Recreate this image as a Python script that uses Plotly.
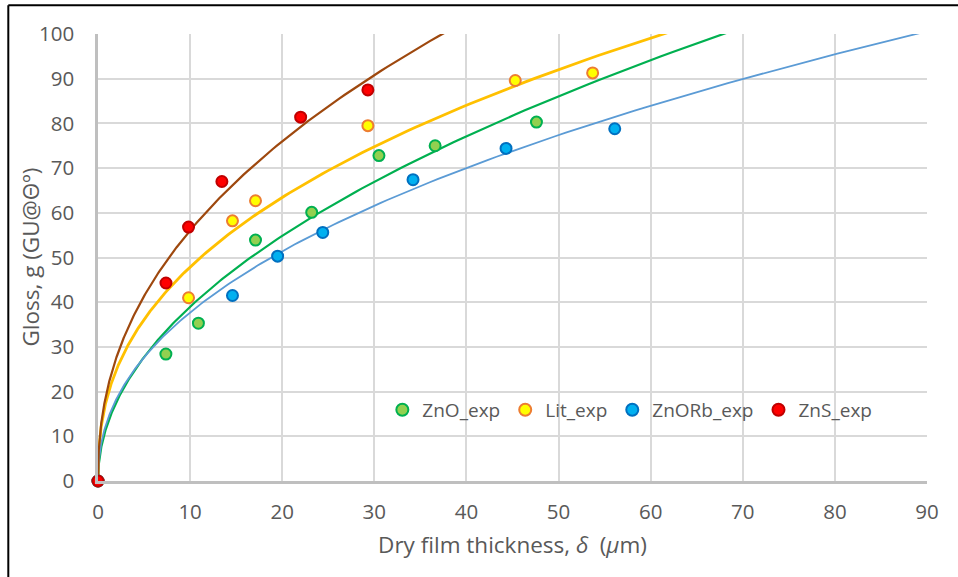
import numpy as np
import plotly.graph_objects as go

# ---- data ----
zno_x = [0, 7.37, 10.9, 17.1, 23.2, 30.5, 36.6, 47.6]
zno_y = [0, 28.4, 35.3, 53.9, 60.1, 72.8, 75.0, 80.3]

lit_x = [0, 9.83, 14.6, 17.1, 29.3, 45.3, 53.7]
lit_y = [0, 41.0, 58.2, 62.7, 79.5, 89.6, 91.3]

znorb_x = [0, 14.6, 19.5, 24.4, 34.2, 44.3, 56.1]
znorb_y = [0, 41.5, 50.3, 55.6, 67.4, 74.4, 78.8]

zns_x = [0, 7.38, 9.83, 13.45, 22.0, 29.3]
zns_y = [0, 44.3, 56.8, 67.0, 81.4, 87.5]

# power-law trendline coefficients g = a * delta^b
fit_names = ["ZnO", "Lit", "ZnORb", "ZnS"]
fit_a = [12.56, 18.8, 13.48, 20.4]
fit_b = [0.492, 0.406, 0.4467, 0.439]

x_ticks = [0, 10, 20, 30, 40, 50, 60, 70, 80, 90]
y_ticks = [0, 10, 20, 30, 40, 50, 60, 70, 80, 90, 100]

# ---- styles ----
line_colors = ["#00B050", "#FFC000", "#5B9BD5", "#9E480E"]
line_widths = [2.2, 2.8, 1.8, 2.2]
fill_colors = ["#92D050", "#FFFF00", "#00B0F0", "#FF0000"]
edge_colors = ["#00B050", "#ED7D31", "#0070C0", "#C00000"]
labels = ["ZnO_exp", "Lit_exp", "ZnORb_exp", "ZnS_exp"]
series = [(zno_x, zno_y), (lit_x, lit_y), (znorb_x, znorb_y), (zns_x, zns_y)]

FONT = "Open Sans"
GRAY = "#595959"

fig = go.Figure()

d = np.concatenate([[0.0], np.geomspace(1e-4, 90, 600)])
for i in range(4):
    fig.add_trace(go.Scatter(
        x=d, y=fit_a[i] * d ** fit_b[i], mode="lines",
        line=dict(color=line_colors[i], width=line_widths[i]),
        showlegend=False, hoverinfo="skip"))

for i, (sx, sy) in enumerate(series):
    fig.add_trace(go.Scatter(
        x=sx, y=sy, mode="markers", name=labels[i],
        marker=dict(size=11, color=fill_colors[i],
                    line=dict(color=edge_colors[i], width=2)),
        cliponaxis=False))

fig.update_layout(
    width=958, height=577,
    margin=dict(l=98, r=31, t=34, b=96),
    paper_bgcolor="white", plot_bgcolor="white",
    font=dict(family=FONT, size=20.5, color=GRAY),
    legend=dict(orientation="h", x=0.343, y=0.159, xanchor="left",
                yanchor="middle", bgcolor="rgba(0,0,0,0)",
                font=dict(size=19, color=GRAY), itemsizing="constant",
                tracegroupgap=0),
    xaxis=dict(range=[0, 90], tickvals=x_ticks, showgrid=True,
               gridcolor="#D9D9D9", gridwidth=1.5, zeroline=False,
               showline=True, linecolor="#BFBFBF", linewidth=2.5,
               ticks="", ticklabelstandoff=11,
               tickfont=dict(size=20.5, color=GRAY),
               title=dict(text="Dry film thickness, <i>δ</i>\u2002(<i>μ</i>m)",
                          standoff=13, font=dict(size=22.5, color=GRAY))),
    yaxis=dict(range=[0, 100], tickvals=y_ticks, showgrid=True,
               gridcolor="#D9D9D9", gridwidth=1.5, zeroline=False,
               showline=True, linecolor="#BFBFBF", linewidth=2.5,
               ticks="", ticklabelstandoff=17,
               tickfont=dict(size=20.5, color=GRAY)),
    annotations=[
        dict(text="Gloss, g (GU@Θº)", textangle=-90, showarrow=False,
             xref="paper", yref="paper", x=-0.082, y=0.5,
             xanchor="center", yanchor="middle",
             font=dict(size=22.5, color=GRAY)),
    ],
    shapes=[
        dict(type="line", xref="paper", yref="paper",
             x0=-0.1082, x1=-0.1082, y0=-0.4, y1=1.0642,
             line=dict(color="black", width=2)),
        dict(type="line", xref="paper", yref="paper",
             x0=-0.1082, x1=1.2, y0=1.0642, y1=1.0642,
             line=dict(color="black", width=2)),
    ],
)

fig.write_html("out.html")
